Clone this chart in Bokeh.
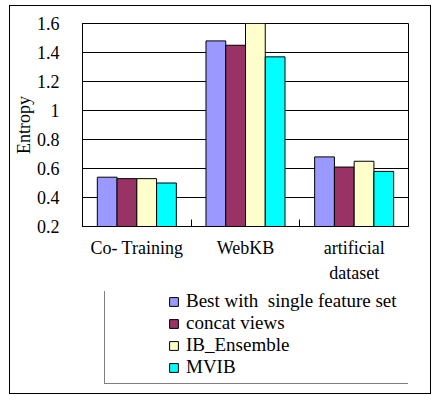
from bokeh.plotting import figure
from bokeh.layouts import column
from bokeh.models import (ColumnDataSource, Range1d, FixedTicker, Legend, LegendItem)
from bokeh.transform import dodge
from bokeh.embed import file_html
from bokeh.resources import INLINE

categories = ["Co- Training", "WebKB", "artificial\ndataset"]
series_names = ["Best with  single feature set", "concat views", "IB_Ensemble", "MVIB"]
best_single = [0.54, 1.48, 0.68]
concat_views = [0.53, 1.45, 0.61]
ib_ensemble = [0.53, 1.60, 0.65]
mvib = [0.50, 1.37, 0.58]
y_ticks = [0.2, 0.4, 0.6, 0.8, 1.0, 1.2, 1.4, 1.6]
y_tick_labels = ["0.2", "0.4", "0.6", "0.8", "1", "1.2", "1.4", "1.6"]
colors = ["#9999FF", "#993366", "#FFFFCC", "#00FFFF"]

FONT = "Liberation Serif"

n = len(categories)
centers = [i + 0.5 for i in range(n)]
boundaries = list(range(1, n))
keys = ["s0", "s1", "s2", "s3"]
src = ColumnDataSource(dict(xc=centers, s0=best_single, s1=concat_views,
                            s2=ib_ensemble, s3=mvib))

bw = 0.1818
offsets = [-1.5 * bw, -0.5 * bw, 0.5 * bw, 1.5 * bw]

# ---- main chart ----
p = figure(x_range=Range1d(0, n), y_range=Range1d(0.2, 1.6),
           width=420, height=285, output_backend="svg", toolbar_location=None,
           min_border_left=68, min_border_right=22, min_border_top=17, min_border_bottom=65)
p.background_fill_color = "white"
p.border_fill_color = "white"
p.outline_line_color = "black"
p.outline_line_width = 1

for i, key in enumerate(keys):
    p.vbar(x=dodge("xc", offsets[i]), top=key, bottom=0.2, width=bw,
           source=src, fill_color=colors[i], line_color="black", line_width=1)

p.xgrid.grid_line_color = None
p.ygrid.ticker = FixedTicker(ticks=y_ticks)
p.ygrid.grid_line_color = "black"
p.ygrid.grid_line_width = 1

ya = p.yaxis[0]
ya.ticker = FixedTicker(ticks=y_ticks)
ya.major_label_overrides = dict(zip(y_ticks, y_tick_labels))
ya.major_tick_in = 4
ya.major_tick_out = 0
ya.minor_tick_line_color = None
ya.major_label_text_font = FONT
ya.major_label_text_font_size = "18px"
ya.major_label_text_color = "black"
ya.major_label_standoff = 23
ya.axis_line_color = "black"
ya.axis_label = "Entropy"
ya.axis_label_text_font = FONT
ya.axis_label_text_font_size = "18px"
ya.axis_label_text_font_style = "normal"
ya.axis_label_text_color = "black"
ya.axis_label_standoff = 0

xa = p.xaxis[0]
xa.ticker = FixedTicker(ticks=centers, minor_ticks=boundaries)
xa.major_label_overrides = dict(zip(centers, categories))
xa.axis_line_color = "black"
xa.major_tick_line_color = None
xa.minor_tick_line_color = "black"
xa.minor_tick_in = 7
xa.minor_tick_out = 0
xa.major_label_text_font = FONT
xa.major_label_text_font_size = "18px"
xa.major_label_text_color = "black"
xa.major_label_standoff = 5
xa.major_label_text_line_height = 1.28

# ---- legend panel ----
p2 = figure(x_range=Range1d(0, n), y_range=Range1d(10, 11),
            width=420, height=102, output_backend="svg", toolbar_location=None,
            x_axis_location=None, y_axis_location=None, min_border=0)
p2.grid.visible = False
p2.outline_line_color = None
p2.background_fill_color = "white"
p2.border_fill_color = "white"

leg_renderers = []
for i, key in enumerate(keys):
    r = p2.vbar(x=dodge("xc", offsets[i]), top=key, bottom=0.2, width=bw,
                source=src, fill_color=colors[i], line_color="black", line_width=1)
    leg_renderers.append(r)

legend = Legend(items=[LegendItem(label=series_names[i], renderers=[leg_renderers[i]])
                       for i in range(4)],
                location=(22, 9), orientation="vertical",
                title=" ", title_location="left", title_text_font_size="1px",
                title_standoff=57,
                glyph_width=11, glyph_height=11, label_standoff=7, spacing=-4,
                label_height=20, label_width=279, padding=5, margin=0,
                border_line_color="black", border_line_width=1.5,
                background_fill_color="white", background_fill_alpha=1,
                label_text_font=FONT, label_text_font_size="19px", label_text_color="black")
p2.add_layout(legend, "center")

layout = column(p, p2, spacing=0,
                styles={"position": "relative", "left": "10px", "top": "6px",
                        "box-shadow": "0 0 0 1px black"})

open("out.html", "w").write(file_html(layout, INLINE))
